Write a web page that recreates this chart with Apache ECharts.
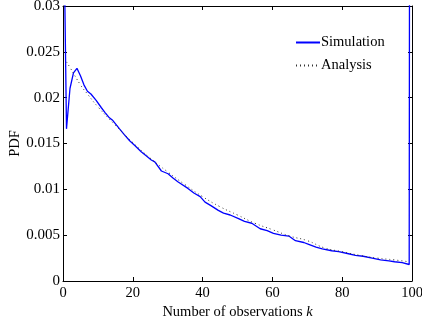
<!DOCTYPE html>
<html>
<head>
<meta charset="utf-8">
<script src="https://cdn.jsdelivr.net/npm/echarts@6/dist/echarts.min.js"></script>
<style>
  html, body { margin: 0; padding: 0; background: #fff; }
  #chart { width: 422px; height: 326px; }
</style>
</head>
<body>
<div id="chart"></div>
<script>
// 仿真曲线 [k, pdf]
const simulation = [
  [0, 0.046], [1, 0.0166], [2, 0.0210], [3, 0.0227], [4, 0.0232], [5, 0.0224],
  [6, 0.0214], [7, 0.0207], [8, 0.0204], [9.5, 0.0197], [11, 0.0189], [12, 0.0184],
  [13.3, 0.0178], [14.3, 0.0175], [16.2, 0.0166], [17.5, 0.0160], [19.1, 0.0153],
  [20.5, 0.0148], [22.4, 0.0141], [24, 0.0136], [25.3, 0.0132], [26.3, 0.0130],
  [28.2, 0.0120], [30.1, 0.0117], [31.6, 0.0112], [33, 0.0108], [35.8, 0.0101],
  [37.5, 0.0096], [39.3, 0.0092], [40.7, 0.0086], [42.5, 0.0082], [44.5, 0.0077],
  [46, 0.0074], [47.9, 0.0072], [50.3, 0.0068], [52, 0.0065], [54.1, 0.0063],
  [56.5, 0.0057], [58.5, 0.0055], [60.3, 0.0052], [62.5, 0.0050], [64.7, 0.0049],
  [66.6, 0.0044], [69, 0.0042], [70.4, 0.0040], [72.5, 0.0037], [74.3, 0.0035],
  [77, 0.0033], [79, 0.0032], [81.5, 0.0030], [83.8, 0.0028], [86, 0.0027],
  [88.6, 0.0025], [91, 0.0023], [93.4, 0.0022], [95, 0.0021], [97.2, 0.0020],
  [99.2, 0.0018], [99.4, 0.08]
]

// 理论分析曲线 [k, pdf]
const analysis = [
  [1, 0.0239], [2, 0.0233], [5, 0.0214], [7, 0.0204], [10, 0.0190], [15, 0.0170],
  [20, 0.0151], [25, 0.0134], [30, 0.0119], [35, 0.0105], [40, 0.0092], [45, 0.0081],
  [50, 0.0072], [55, 0.0063], [60, 0.0056], [65, 0.0049], [70, 0.0044], [75, 0.0036],
  [80, 0.0032], [85, 0.0028], [90, 0.0025], [95, 0.0023], [99, 0.0021]
]

const xTickLabels = ['0', '20', '40', '60', '80', '100']
const yTickLabels = ['0', '0.005', '0.01', '0.015', '0.02', '0.025', '0.03']

const FONT = 'Liberation Serif'

const chart = echarts.init(document.getElementById('chart'))

const baseAxis = {
  type: 'value',
  axisLine: { show: true, onZero: false, lineStyle: { color: '#000', width: 1 } },
  axisTick: { show: true, inside: true, length: 4, lineStyle: { color: '#000' } },
  splitLine: { show: false }
}

chart.setOption({
  animation: false,
  grid: { left: 63, right: 10, top: 6, bottom: 45, containLabel: false, outerBoundsMode: 'none' },
  legend: {
    orient: 'vertical',
    left: 295,
    top: 35,
    padding: 0,
    itemWidth: 24,
    itemHeight: 14,
    itemGap: 8,
    itemStyle: { opacity: 0 },
    textStyle: { fontFamily: FONT, fontSize: 14.5, color: '#000', padding: [0, 0, 0, -4] },
    data: ['Simulation', 'Analysis']
  },
  xAxis: [
    {
      ...baseAxis,
      position: 'bottom',
      min: 0, max: 100, interval: 20,
      axisLabel: {
        margin: 5,
        fontFamily: FONT, fontSize: 14.5, color: '#000',
        formatter: v => xTickLabels[Math.round(v / 20)]
      },
      name: 'Number of observations {i|k}',
      nameLocation: 'middle',
      nameGap: 24,
      nameMoveOverlap: false,
      nameTextStyle: {
        fontFamily: FONT, fontSize: 14.5, color: '#000',
        rich: { i: { fontFamily: FONT, fontSize: 14.5, fontStyle: 'italic', color: '#000' } }
      }
    },
    {
      ...baseAxis,
      position: 'top',
      min: 0, max: 100, interval: 20,
      axisLabel: { show: false }
    }
  ],
  yAxis: [
    {
      ...baseAxis,
      position: 'left',
      min: 0, max: 0.03, interval: 0.005,
      axisLabel: {
        margin: 3,
        fontFamily: FONT, fontSize: 15, color: '#000',
        formatter: v => yTickLabels[Math.round(v / 0.005)]
      },
      name: 'PDF',
      nameLocation: 'middle',
      nameGap: 40,
      nameMoveOverlap: false,
      nameTextStyle: { fontFamily: FONT, fontSize: 14.5, color: '#000' }
    },
    {
      ...baseAxis,
      position: 'right',
      min: 0, max: 0.03, interval: 0.005,
      axisLabel: { show: false }
    }
  ],
  series: [
    {
      name: 'Simulation',
      type: 'line',
      xAxisIndex: 0,
      yAxisIndex: 0,
      symbol: 'none',
      clip: true,
      lineStyle: { color: '#0000ff', width: 1.3 },
      itemStyle: { color: '#0000ff' },
      data: simulation
    },
    {
      name: 'Analysis',
      type: 'line',
      xAxisIndex: 0,
      yAxisIndex: 0,
      symbol: 'none',
      smooth: true,
      clip: true,
      lineStyle: { color: '#333', width: 1, type: [1, 3] },
      itemStyle: { color: '#333' },
      data: analysis
    }
  ]
})
</script>
</body>
</html>
